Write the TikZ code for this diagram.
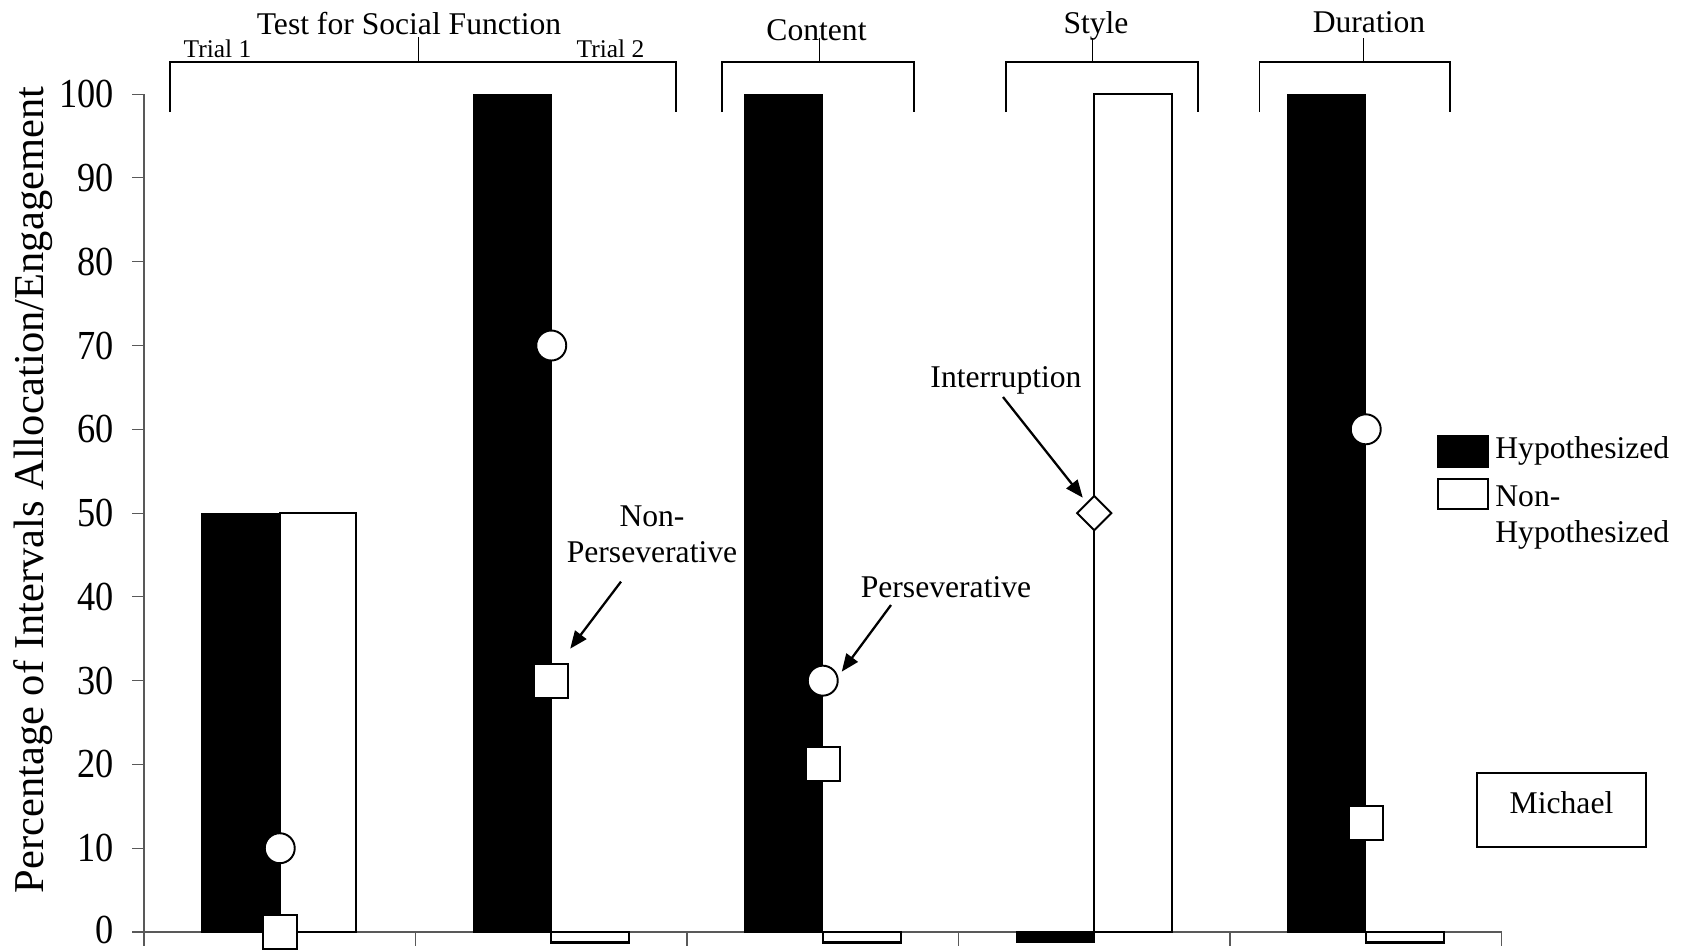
\documentclass[tikz,border=0pt]{standalone}
\usepackage{fontspec}
\setmainfont{Liberation Serif}
\usetikzlibrary{arrows.meta}
\usetikzlibrary{shapes.geometric}

\begin{document}
\begin{tikzpicture}[x=0.02cm, y=0.02cm,
    lbl/.style={font=\fontsize{18}{21}\selectfont, inner sep=0pt},
    smalllbl/.style={font=\fontsize{14.5}{17}\selectfont, inner sep=0pt},
    ticklbl/.style={font=\fontsize{23.5}{28}\selectfont, inner sep=0pt, anchor=east},
    axis/.style={black!65, line width=0.6pt},
    brk/.style={line width=1.1pt},
    hyp/.style={fill=black, draw=black, line width=0.6pt},
    nonhyp/.style={fill=white, draw=black, line width=1.2pt},
    dot/.style={circle, draw, fill=white, line width=1.1pt, minimum size=0.6cm, inner sep=0pt},
    sqr/.style={rectangle, draw, fill=white, line width=1.1pt, minimum size=0.68cm, inner sep=0pt},
    dmd/.style={diamond, aspect=1, draw, fill=white, line width=1.1pt, minimum size=0.7cm, inner sep=0pt},
    pointer/.style={-{Triangle[length=10pt,width=8pt]}, line width=1.3pt}]
    \useasboundingbox (0,0) rectangle (1688,-951);

    % plot area, y in percent
    \begin{scope}[shift={(0,-932)}, y=0.1676cm]
        \draw[axis] (144,0) -- (1501.5,0);
        \draw[axis] (144,0) -- (144,100);
        \foreach \v in {10,20,...,100} {
            \draw[axis] (132,\v) -- (144,\v);
            \node[ticklbl] (tk\v) at (114,\v) {\scalebox{0.88}[1]{\v}};
        }
        \draw[axis] (132,0) -- (144,0);
        \node[ticklbl] (tk0) at (114,0.3) {\scalebox{0.88}[1]{0}};
        \foreach \x in {144,415.5,687,958.5,1230,1501.5}
            \draw[axis] (\x,0) -- (\x,-1.7);

        % bars: hypothesized / non-hypothesized
        \foreach \cx/\hv/\nv/\w in {279.75/50/50/76, 551.25/100/0/78, 822.75/100/0/78, 1094.25/0/100/78, 1365.75/100/0/78} {
            \pgfmathsetmacro\hb{\hv==0 ? -1.25 : \hv}
            \pgfmathsetmacro\nb{\nv==0 ? -1.25 : \nv}
            \draw[hyp] ({\cx-78},0) rectangle (\cx,\hb);
            \draw[nonhyp] (\cx,0) rectangle ({\cx+\w},\nb);
        }

        % engagement markers
        \node[dot] (c1) at (279.75,10) {};
        \node[sqr] (s1) at (279.75,0) {};
        \node[dot] (c2) at (551.25,70) {};
        \node[sqr] (s2) at (551.25,30) {};
        \node[dot] (c3) at (822.75,30) {};
        \node[sqr] (s3) at (822.75,20) {};
        \node[dmd] (d4) at (1094.25,50) {};
        \node[dot] (c5) at (1365.75,60) {};
        \node[sqr] (s5) at (1365.75,13) {};
    \end{scope}

    \node[font=\fontsize{24.2}{28}\selectfont, inner sep=0pt, rotate=90] (ylab) at (33,-490)
        {Percentage of Intervals Allocation/Engagement};

    % condition brackets
    \draw[brk] (170,-112) -- (170,-62) -- (676,-62) -- (676,-112);
    \draw (418,-62) -- (418,-37);
    \draw[brk] (722,-112) -- (722,-62) -- (914,-62) -- (914,-112);
    \draw (819.7,-62) -- (819.7,-38);
    \draw[brk] (1005.6,-112) -- (1005.6,-62) -- (1197.8,-62) -- (1197.8,-112);
    \draw (1092.6,-62) -- (1092.6,-38);
    \draw[brk] (1259.5,-112) -- (1259.5,-62) -- (1450,-62) -- (1450,-112);
    \draw (1363.5,-62) -- (1363.5,-38);

    \node[lbl, anchor=base] (social) at (409,-34) {Test for Social Function};
    \node[smalllbl, anchor=base] (trial1) at (217.5,-57) {Trial 1};
    \node[smalllbl, anchor=base] (trial2) at (610.5,-57) {Trial 2};
    \node[lbl, anchor=base] (content) at (816.5,-40) {Content};
    \node[lbl, anchor=base] (style) at (1096,-33) {Style};
    \node[lbl, anchor=base] (duration) at (1369,-32) {Duration};

    % annotations
    \node[lbl, align=center, anchor=north] (nonpers) at (652,-505) {Non-\\Perseverative};
    \node[lbl, anchor=base] (pers) at (946,-597) {Perseverative};
    \node[lbl, anchor=base] (interr) at (1006,-387) {Interruption};
    \draw[pointer] ([shift={(-31,-18)}]nonpers.south) -- ([shift={(1,14)}]s2.north east);
    \draw[pointer] ([shift={(-55,-8)}]pers.base) -- ([shift={(19,9)}]c3.center);
    \draw[pointer] ([shift={(-3,-10)}]interr.base) -- ([shift={(-11.5,15.4)}]d4.center);

    % legend
    \draw[hyp] (1438,-436) rectangle (1488,-467);
    \draw[nonhyp] (1438,-479) rectangle (1488,-509);
    \node[lbl, anchor=base west] (lghyp) at (1495,-458) {Hypothesized};
    \node[lbl, align=left, anchor=north west] (lgnon) at (1495,-485) {Non-\\Hypothesized};

    \node[lbl, draw, line width=1.1pt, text depth=0.28cm, minimum width=3.38cm, minimum height=1.48cm] (michael)
        at (1561.5,-810) {Michael};
\end{tikzpicture}
\end{document}
